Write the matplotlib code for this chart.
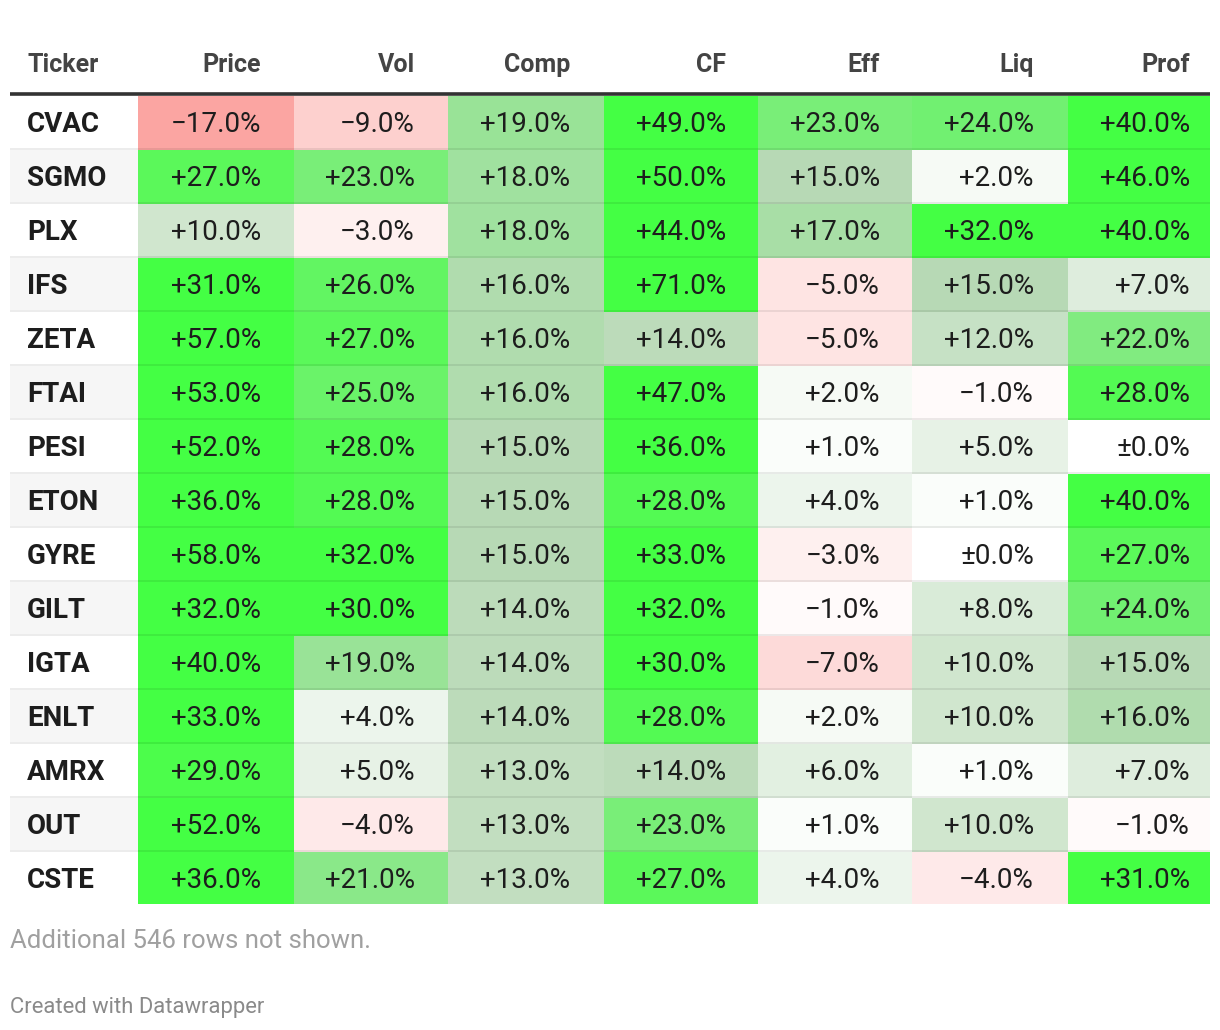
import matplotlib
matplotlib.use("Agg")
import matplotlib.pyplot as plt
from matplotlib.colors import LinearSegmentedColormap, Normalize
from matplotlib.patches import Rectangle

tickers = ["CVAC", "SGMO", "PLX", "IFS", "ZETA", "FTAI", "PESI", "ETON",
           "GYRE", "GILT", "IGTA", "ENLT", "AMRX", "OUT", "CSTE"]
columns = ["Price", "Vol", "Comp", "CF", "Eff", "Liq", "Prof"]
price = [-17, 27, 10, 31, 57, 53, 52, 36, 58, 32, 40, 33, 29, 52, 36]
vol   = [-9, 23, -3, 26, 27, 25, 28, 28, 32, 30, 19, 4, 5, -4, 21]
comp  = [19, 18, 18, 16, 16, 16, 15, 15, 15, 14, 14, 14, 13, 13, 13]
cf    = [49, 50, 44, 71, 14, 47, 36, 28, 33, 32, 30, 28, 14, 23, 27]
eff   = [23, 15, 17, -5, -5, 2, 1, 4, -3, -1, -7, 2, 6, 1, 4]
liq   = [24, 2, 32, 15, 12, -1, 5, 1, 0, 8, 10, 10, 1, 10, -4]
prof  = [40, 46, 40, 7, 22, 28, 0, 40, 27, 24, 15, 16, 7, -1, 31]
series = [price, vol, comp, cf, eff, liq, prof]
footnote = "Additional 546 rows not shown."
credit = "Created with Datawrapper"

plt.rcParams['font.family'] = ['Roboto', 'DejaVu Sans']

W, H = 1220, 1030
fig = plt.figure(figsize=(W / 100, H / 100), dpi=100)
ax = fig.add_axes([0, 0, 1, 1])
ax.set_xlim(0, W)
ax.set_ylim(H, 0)
ax.axis('off')

# color scale: red -> white -> grey-green -> bright green
vmin, vmax = -20, 30
stops = [(-20, (250/255, 150/255, 146/255)),
         (0, (1, 1, 1)),
         (15, (184/255, 217/255, 182/255)),
         (30, (68/255, 255/255, 68/255))]
cmap = LinearSegmentedColormap.from_list(
    "dw", [((v - vmin) / (vmax - vmin), c) for v, c in stops])
norm = Normalize(vmin=vmin, vmax=vmax, clip=True)

left, right = 10, 1210
col_edges = [138, 294, 448, 604, 758, 912, 1068, 1210]
text_right = [261, 415, 570, 726, 880, 1034, 1190]
top = 96
pitch = 54
sep = 2

def fmt(v):
    if v == 0:
        return "\u00b10.0%"
    if v > 0:
        return "+%.1f%%" % v
    return "\u2212%.1f%%" % abs(v)

val_fs = 20
cap = 0.711 * val_fs * 100 / 72

# header
ax.text(27, 72, "Ticker", fontsize=18, fontweight='bold', color='#444444',
        ha='left', va='baseline')
for j, name in enumerate(columns):
    ax.text(text_right[j], 72, name, fontsize=18, fontweight='bold',
            color='#444444', ha='right', va='baseline')

n = len(tickers)
for i, t in enumerate(tickers):
    y0 = top + i * pitch
    cell_h = pitch - sep if i < n - 1 else pitch - sep
    yc = y0 + (pitch - sep) / 2
    bg = '#f6f6f6' if i % 2 == 1 else '#ffffff'
    ax.add_patch(Rectangle((left, y0), col_edges[0] - left, cell_h,
                           facecolor=bg, edgecolor='none', zorder=1))
    ax.text(27, yc + cap / 2, t, fontsize=val_fs, fontweight='bold',
            color='#1d1d1d', ha='left', va='baseline', zorder=3)
    for j, s in enumerate(series):
        v = s[i]
        c = cmap(norm(v))
        ax.add_patch(Rectangle((col_edges[j], y0), col_edges[j + 1] - col_edges[j],
                               pitch, facecolor=c, edgecolor='none', zorder=1))
        ax.text(text_right[j], yc + cap / 2, fmt(v), fontsize=val_fs,
                color='#1d1d1d', ha='right', va='baseline', zorder=3)
    if i < n - 1:
        ys = y0 + pitch - sep / 2
        ax.plot([left, right], [ys, ys], color='black', alpha=0.075,
                linewidth=sep * 0.72, solid_capstyle='butt', zorder=2)

# cover the extra bottom of last row
ax.add_patch(Rectangle((left, top + n * pitch - sep), right - left, sep + 1,
                       facecolor='white', edgecolor='none', zorder=2))

# thick header rule
ax.plot([left, right], [94, 94], color='#333333', linewidth=2.6,
        solid_capstyle='butt', zorder=4)

ax.text(10, 948, footnote, fontsize=18.5, color='#a0a0a0', ha='left',
        va='baseline')
ax.text(10, 1013, credit, fontsize=15.8, color='#8a8a8a', ha='left',
        va='baseline')

fig.savefig("out.png", dpi=100, facecolor='white')
